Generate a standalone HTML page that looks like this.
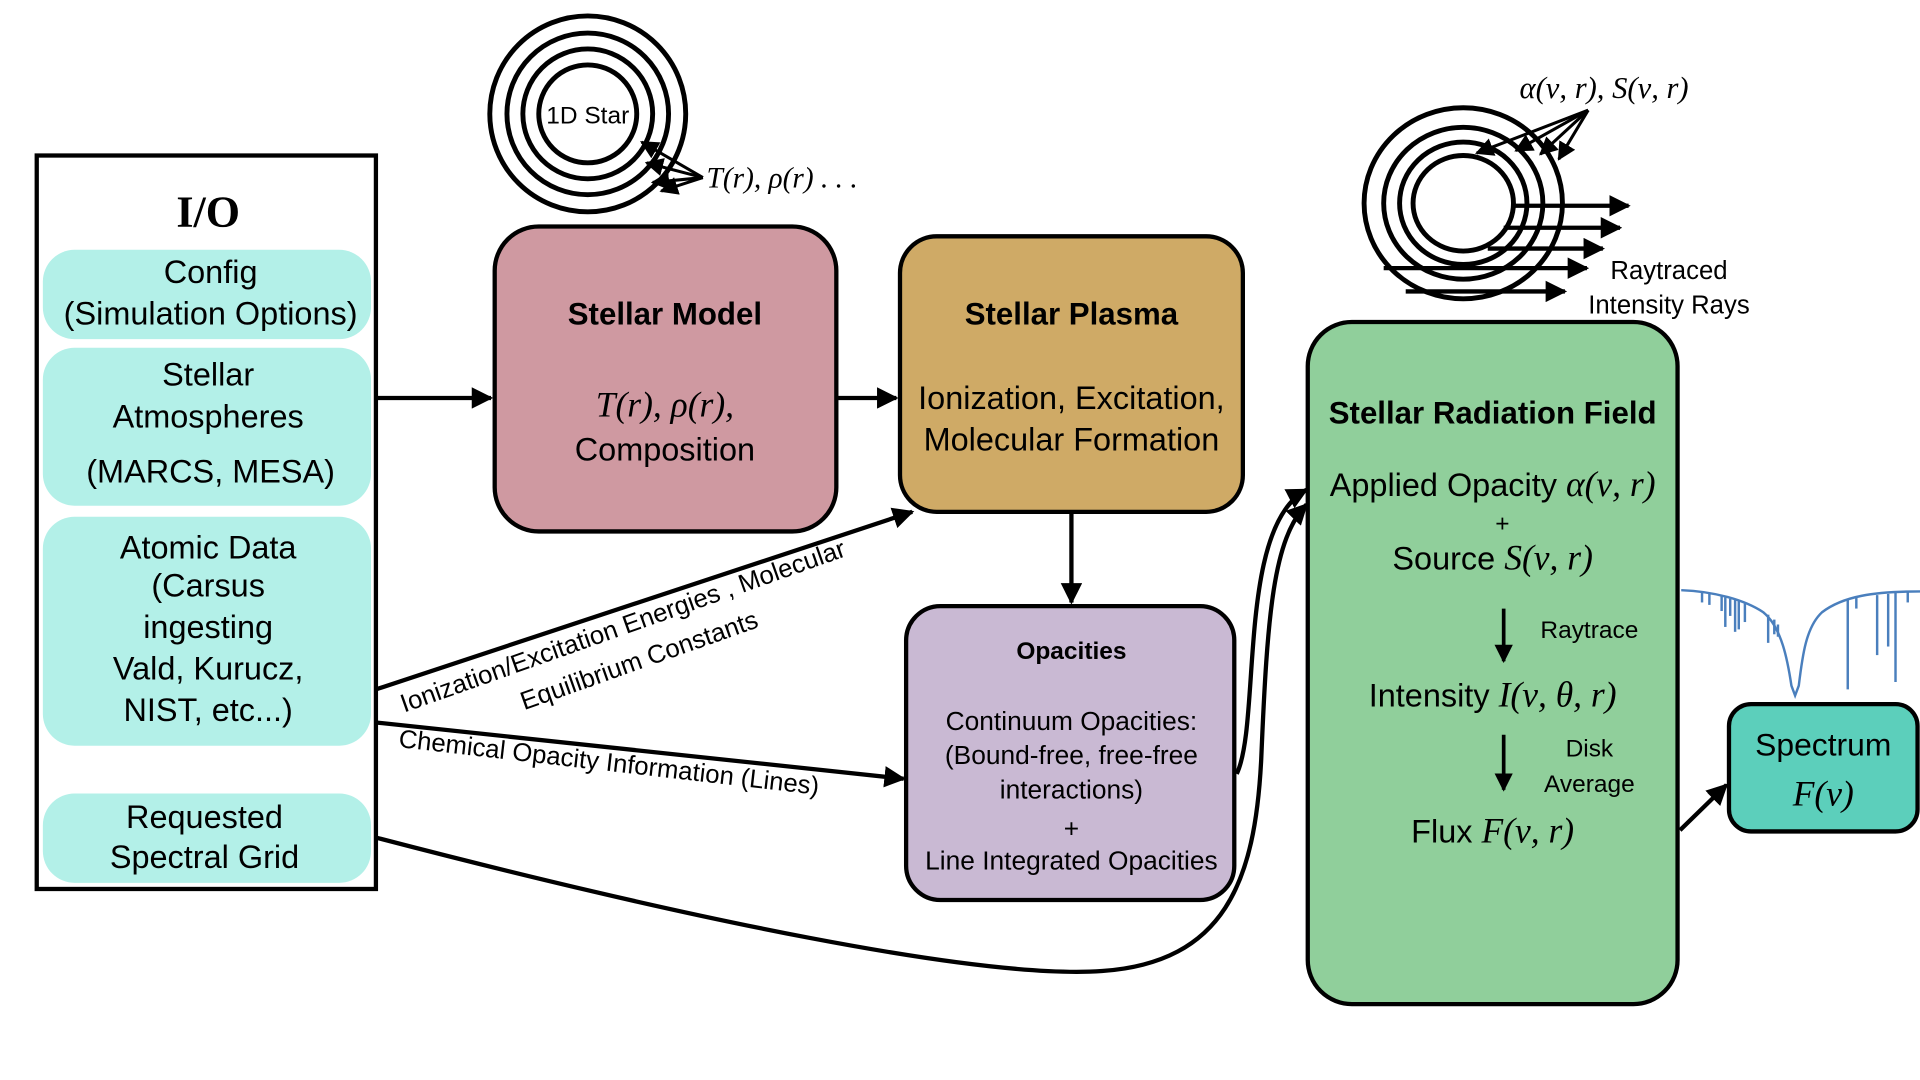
<!DOCTYPE html>
<html><head><meta charset="utf-8"><style>
html,body{margin:0;padding:0;background:#fff;}
svg{display:block;}
text{font-family:"Liberation Sans",sans-serif;fill:#000;}
.m{font-family:"Liberation Serif",serif;font-style:italic;}
.b{font-weight:bold;}
</style></head><body>
<svg width="1920" height="1080" viewBox="0 0 1568 882" xmlns="http://www.w3.org/2000/svg">
<defs>
<marker id="ah" viewBox="0 0 10 10" refX="9" refY="5" markerWidth="5" markerHeight="5" orient="auto" markerUnits="strokeWidth"><path d="M0,0 L10,5 L0,10 z" fill="#000"/></marker>
<marker id="as" viewBox="0 0 10 10" refX="9" refY="5" markerWidth="6" markerHeight="6" orient="auto" markerUnits="strokeWidth"><path d="M0,0 L10,5 L0,10 z" fill="#000"/></marker>
</defs>

<rect x="30" y="127" width="277" height="599" fill="#fff" stroke="#000" stroke-width="3.5"/>
<text x="170" y="185" font-size="36" text-anchor="middle" style="font-family:'Liberation Serif',serif;font-weight:bold">I/O</text>
<g fill="#b3f0e8">
<rect x="35" y="204" width="268" height="73" rx="26"/>
<rect x="35" y="284" width="268" height="129" rx="26"/>
<rect x="35" y="422" width="268" height="187" rx="26"/>
<rect x="35" y="648" width="268" height="73" rx="26"/>
</g>
<g font-size="26.5" text-anchor="middle">
<text x="172" y="231">Config</text>
<text x="172" y="265">(Simulation Options)</text>
<text x="170" y="315">Stellar</text>
<text x="170" y="349">Atmospheres</text>
<text x="172" y="394">(MARCS, MESA)</text>
<text x="170" y="456">Atomic Data</text>
<text x="170" y="487">(Carsus</text>
<text x="170" y="521">ingesting</text>
<text x="170" y="555">Vald, Kurucz,</text>
<text x="170" y="589">NIST, etc...)</text>
<text x="167" y="676">Requested</text>
<text x="167" y="709">Spectral Grid</text>
</g>

<g fill="none" stroke="#000" stroke-width="4">
<circle cx="480" cy="93" r="80"/>
<circle cx="480" cy="93" r="66"/>
<circle cx="480" cy="93" r="53"/>
<circle cx="480" cy="93" r="40"/>
</g>
<text x="480" y="101" font-size="20" text-anchor="middle">1D Star</text>
<g stroke="#000" stroke-width="2.5" fill="none" marker-end="url(#as)">
<line x1="574" y1="145" x2="524" y2="116"/>
<line x1="574" y1="145" x2="528" y2="133"/>
<line x1="574" y1="145" x2="533" y2="149"/>
<line x1="574" y1="145" x2="540" y2="156"/>
</g>
<text x="577" y="153" font-size="24" class="m">T(r), ρ(r) . . .</text>

<rect x="404" y="185" width="279" height="249" rx="36" fill="#cf99a1" stroke="#000" stroke-width="3.5"/>
<text x="543" y="265" font-size="25.5" class="b" text-anchor="middle">Stellar Model</text>
<text x="543" y="340" font-size="29" class="m" text-anchor="middle">T(r), ρ(r),</text>
<text x="543" y="376" font-size="26.5" text-anchor="middle">Composition</text>

<rect x="735" y="193" width="280" height="225" rx="30" fill="#cfaa66" stroke="#000" stroke-width="3.5"/>
<text x="875" y="265" font-size="25.5" class="b" text-anchor="middle">Stellar Plasma</text>
<text x="875" y="334" font-size="26.5" text-anchor="middle">Ionization, Excitation,</text>
<text x="875" y="368" font-size="26.5" text-anchor="middle">Molecular Formation</text>

<rect x="740" y="495" width="268" height="240" rx="28" fill="#c9b9d3" stroke="#000" stroke-width="3.5"/>
<text x="875" y="538" font-size="20" class="b" text-anchor="middle">Opacities</text>
<g font-size="21.5" text-anchor="middle">
<text x="875" y="596">Continuum Opacities:</text>
<text x="875" y="624">(Bound-free, free-free</text>
<text x="875" y="652">interactions)</text>
<text x="875" y="684">+</text>
<text x="875" y="710">Line Integrated Opacities</text>
</g>

<rect x="1068" y="263" width="302" height="557" rx="36" fill="#90cf9b" stroke="#000" stroke-width="3.5"/>
<text x="1219" y="346" font-size="25.5" class="b" text-anchor="middle">Stellar Radiation Field</text>
<text x="1219" y="405" font-size="26.5" text-anchor="middle">Applied Opacity <tspan class="m" font-size="29">α(ν, r)</tspan></text>
<text x="1227" y="434" font-size="20" text-anchor="middle">+</text>
<text x="1219" y="465" font-size="26.5" text-anchor="middle">Source <tspan class="m" font-size="29">S(ν, r)</tspan></text>
<line x1="1228" y1="497" x2="1228" y2="540" stroke="#000" stroke-width="3" marker-end="url(#ah)"/>
<text x="1298" y="521" font-size="20" text-anchor="middle">Raytrace</text>
<text x="1219" y="577" font-size="26.5" text-anchor="middle">Intensity <tspan class="m" font-size="29">I(ν, θ, r)</tspan></text>
<line x1="1228" y1="600" x2="1228" y2="645" stroke="#000" stroke-width="3" marker-end="url(#ah)"/>
<text x="1298" y="618" font-size="20" text-anchor="middle">Disk</text>
<text x="1298" y="647" font-size="20" text-anchor="middle">Average</text>
<text x="1219" y="688" font-size="26.5" text-anchor="middle">Flux <tspan class="m" font-size="29">F(ν, r)</tspan></text>

<rect x="1412" y="575" width="154" height="104" rx="18" fill="#5ccfbb" stroke="#000" stroke-width="3.5"/>
<text x="1489" y="617" font-size="26" text-anchor="middle">Spectrum</text>
<text x="1489" y="658" font-size="29" class="m" text-anchor="middle">F(ν)</text>

<g stroke="#4a7fbd" stroke-width="2" fill="none">
<path d="M1373,482 C1400,483 1425,490 1440,500 C1455,512 1460,540 1463,560 L1466,568 L1469,560 C1472,535 1475,512 1488,500 C1505,487 1530,483 1568,483"/>
<line x1="1390" y1="484" x2="1390" y2="492"/>
<line x1="1396" y1="484" x2="1396" y2="494"/>
<line x1="1406" y1="487" x2="1406" y2="499"/>
<line x1="1409" y1="488" x2="1409" y2="512"/>
<line x1="1413" y1="489" x2="1413" y2="503"/>
<line x1="1417" y1="490" x2="1417" y2="516"/>
<line x1="1420" y1="491" x2="1420" y2="514"/>
<line x1="1425" y1="493" x2="1425" y2="508"/>
<line x1="1444" y1="502" x2="1444" y2="525"/>
<line x1="1449" y1="506" x2="1449" y2="518"/>
<line x1="1452" y1="510" x2="1452" y2="520"/>
<line x1="1509" y1="490" x2="1509" y2="563"/>
<line x1="1516" y1="488" x2="1516" y2="497"/>
<line x1="1533" y1="486" x2="1533" y2="535"/>
<line x1="1542" y1="485" x2="1542" y2="528"/>
<line x1="1548" y1="484" x2="1548" y2="557"/>
<line x1="1558" y1="483" x2="1558" y2="492"/>
</g>

<g fill="none" stroke="#000" stroke-width="4">
<ellipse cx="1195" cy="166" rx="81" ry="78"/>
<ellipse cx="1195" cy="166" rx="65" ry="62"/>
<ellipse cx="1195" cy="166" rx="52" ry="50"/>
<ellipse cx="1195" cy="166" rx="41" ry="39"/>
</g>
<g stroke="#000" stroke-width="3.5" fill="none" marker-end="url(#ah)">
<line x1="1236" y1="168" x2="1330" y2="168"/>
<line x1="1228" y1="186" x2="1323" y2="186"/>
<line x1="1215" y1="203" x2="1309" y2="203"/>
<line x1="1130" y1="219" x2="1296" y2="219"/>
<line x1="1148" y1="238" x2="1278" y2="238"/>
</g>
<g stroke="#000" stroke-width="2.5" fill="none" marker-end="url(#as)">
<line x1="1297" y1="90" x2="1206" y2="125"/>
<line x1="1297" y1="90" x2="1238" y2="123"/>
<line x1="1297" y1="90" x2="1258" y2="126"/>
<line x1="1297" y1="90" x2="1273" y2="130"/>
</g>
<text x="1310" y="80" font-size="25" class="m" text-anchor="middle">α(ν, r), S(ν, r)</text>
<text x="1363" y="228" font-size="21" text-anchor="middle">Raytraced</text>
<text x="1363" y="256" font-size="21" text-anchor="middle">Intensity Rays</text>

<g stroke="#000" stroke-width="3.5" fill="none" marker-end="url(#ah)">
<line x1="307" y1="325" x2="401" y2="325"/>
<line x1="683" y1="325" x2="732" y2="325"/>
<line x1="875" y1="418" x2="875" y2="492"/>
<line x1="307" y1="563" x2="745" y2="418"/>
<line x1="307" y1="590" x2="738" y2="636"/>
<path d="M307,684 C560,750 800,800 900,793 C1000,786 1025,720 1030,620 C1035,500 1040,440 1067,412"/>
<path d="M1010,632 C1030,590 1010,430 1067,400"/>
<line x1="1372" y1="678" x2="1410" y2="641"/>
</g>

<text transform="translate(330,582) rotate(-19.5)" font-size="21">Ionization/Excitation Energies , Molecular</text>
<text transform="translate(428,580) rotate(-19.5)" font-size="21">Equilibrium Constants</text>
<text transform="translate(325,610) rotate(6.5)" font-size="21">Chemical Opacity Information (Lines)</text>
</svg>
</body></html>
